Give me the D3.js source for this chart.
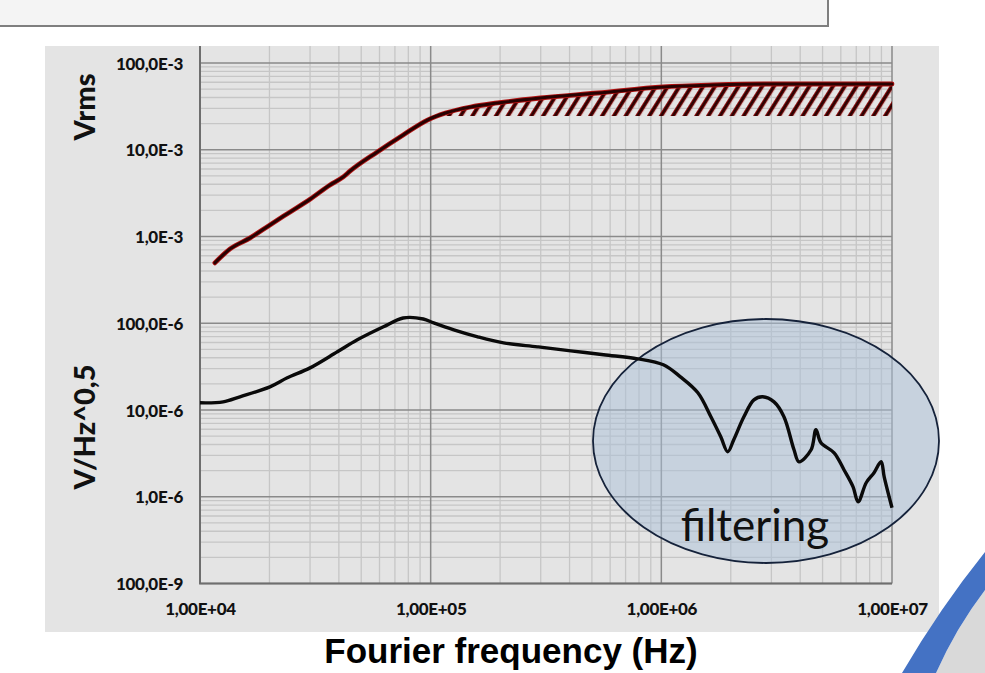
<!DOCTYPE html>
<html>
<head>
<meta charset="utf-8">
<script src="https://cdn.jsdelivr.net/npm/d3@7"></script>
<style>
  html, body { margin: 0; padding: 0; background: #ffffff; }
  svg { display: block; }
</style>
</head>
<body>
<svg id="chart" width="985" height="673"></svg>
<script>
// ---------------- data ----------------
const xTickValues = [1e4, 1e5, 1e6, 1e7];
const xTickLabels = ["1,00E+04", "1,00E+05", "1,00E+06", "1,00E+07"];
const yTickValues = [1e-1, 1e-2, 1e-3, 1e-4, 1e-5, 1e-6, 1e-7];
const yTickLabels = ["100,0E-3", "10,0E-3", "1,0E-3", "100,0E-6", "10,0E-6", "1,0E-6", "100,0E-9"];

// Integrated noise (Vrms)
const vrmsFreq = [1.16e4, 1.35e4, 1.65e4, 2.01e4, 2.46e4, 3.01e4, 3.66e4, 4.18e4, 4.48e4, 5.87e4, 7.60e4, 9.68e4,
                  1.16e5, 1.49e5, 1.95e5, 2.99e5, 5.30e5, 1.02e6, 1.69e6, 2.90e6, 1.0e7];
const vrmsValue = [4.97e-4, 7.19e-4, 9.64e-4, 1.36e-3, 1.92e-3, 2.71e-3, 3.93e-3, 4.86e-3, 5.70e-3, 9.44e-3, 1.48e-2, 2.20e-2,
                   2.65e-2, 3.11e-2, 3.46e-2, 3.95e-2, 4.51e-2, 5.30e-2, 5.58e-2, 5.73e-2, 5.73e-2];
// hatched band (between a floor and the Vrms curve)
const bandFloor = 2.45e-2;
const bandStartFreq = 1.1e5;

// Noise spectral density (V/Hz^0.5)
const psdFreq = [1.00e4, 1.26e4, 1.49e4, 2.01e4, 2.39e4, 3.00e4, 3.94e4, 4.81e4, 6.24e4, 7.60e4, 9.29e4, 1.03e5,
                 1.26e5, 1.60e5, 2.07e5, 2.90e5, 4.05e5, 5.62e5, 7.91e5, 1.02e6, 1.21e6, 1.44e6, 1.64e6, 1.81e6,
                 1.94e6, 2.06e6, 2.28e6, 2.52e6, 2.75e6, 3.08e6, 3.40e6, 3.76e6, 3.95e6, 4.46e6, 4.68e6, 4.92e6,
                 5.61e6, 6.19e6, 6.78e6, 7.13e6, 7.73e6, 8.36e6, 8.97e6, 9.25e6, 1.0e7];
const psdValue = [1.21e-5, 1.24e-5, 1.42e-5, 1.85e-5, 2.35e-5, 3.06e-5, 4.69e-5, 6.44e-5, 9.10e-5, 1.15e-4, 1.12e-4, 1.01e-4,
                  8.40e-5, 6.97e-5, 5.94e-5, 5.35e-5, 4.81e-5, 4.33e-5, 3.89e-5, 3.32e-5, 2.41e-5, 1.58e-5, 8.36e-6, 4.91e-6,
                  3.30e-6, 4.54e-6, 8.36e-6, 1.31e-5, 1.42e-5, 1.24e-5, 8.36e-6, 3.48e-6, 2.53e-6, 3.48e-6, 5.91e-6, 4.19e-6,
                  3.21e-6, 2.05e-6, 1.30e-6, 8.75e-7, 1.45e-6, 1.89e-6, 2.53e-6, 1.70e-6, 7.46e-7];

const yTitles = ["Vrms", "V/Hz^0,5"];
const xTitle = "Fourier frequency (Hz)";
const noteText = "filtering";

// ---------------- drawing ----------------
const svg = d3.select("#chart");
const tickFont = "Lato, 'Open Sans', sans-serif";

// top box
svg.append("rect").attr("x", -5).attr("y", -5).attr("width", 833).attr("height", 31)
  .attr("fill", "#f4f4f4").attr("stroke", "#7f7f7f").attr("stroke-width", 2);

// chart panel
svg.append("rect").attr("x", 45).attr("y", 46).attr("width", 894).attr("height", 586).attr("fill", "#e4e4e4");

const x = d3.scaleLog().domain([1e4, 1e7]).range([200, 892]);
const y = d3.scaleLog().domain([1e-7, 1e-1]).range([583.5, 63]);
const plotTop = 46;

// gridlines
const gx = svg.append("g");
const minorX = [];
for (let d = 4; d < 7; d++) for (let m = 2; m <= 9; m++) minorX.push(m * Math.pow(10, d));
const minorY = [];
for (let d = -7; d < -1; d++) for (let m = 2; m <= 9; m++) minorY.push(m * Math.pow(10, d));
gx.selectAll("line.mx").data(minorX).join("line")
  .attr("x1", d => x(d)).attr("x2", d => x(d)).attr("y1", plotTop).attr("y2", y(1e-7))
  .attr("stroke", "#c6c6c6").attr("stroke-width", 1.3);
gx.selectAll("line.my").data(minorY).join("line")
  .attr("x1", x(1e4)).attr("x2", x(1e7)).attr("y1", d => y(d)).attr("y2", d => y(d))
  .attr("stroke", "#c6c6c6").attr("stroke-width", 1.3);
gx.selectAll("line.My").data(yTickValues).join("line")
  .attr("x1", x(1e4)).attr("x2", x(1e7)).attr("y1", d => y(d)).attr("y2", d => y(d))
  .attr("stroke", "#8a8a8a").attr("stroke-width", 1.5);
gx.selectAll("line.Mx").data(xTickValues).join("line")
  .attr("x1", d => x(d)).attr("x2", d => x(d)).attr("y1", plotTop).attr("y2", y(1e-7))
  .attr("stroke", "#8a8a8a").attr("stroke-width", 1.5);

// axes lines
svg.append("line").attr("x1", x(1e4)).attr("x2", x(1e4)).attr("y1", plotTop).attr("y2", y(1e-7))
  .attr("stroke", "#6e6e6e").attr("stroke-width", 2);
svg.append("line").attr("x1", x(1e4) - 1).attr("x2", x(1e7)).attr("y1", y(1e-7)).attr("y2", y(1e-7))
  .attr("stroke", "#6e6e6e").attr("stroke-width", 2);

// axes labels via d3 axes
const yAxis = d3.axisLeft(y).tickValues(yTickValues).tickFormat((d, i) => yTickLabels[i]).tickSize(0).tickPadding(17);
const ya = svg.append("g").attr("transform", `translate(${x(1e4)},0)`).call(yAxis);
ya.select(".domain").remove();
ya.selectAll("text").attr("font-family", tickFont).attr("font-weight", 900).attr("font-size", 17)
  .attr("fill", "#111").attr("dy", "0.36em").attr("letter-spacing", "-0.3px");

const xAxis = d3.axisBottom(x).tickValues(xTickValues).tickFormat((d, i) => xTickLabels[i]).tickSize(0).tickPadding(19);
const xa = svg.append("g").attr("transform", `translate(0,${y(1e-7)})`).call(xAxis);
xa.select(".domain").remove();
xa.selectAll("text").attr("font-family", tickFont).attr("font-weight", 900).attr("font-size", 17)
  .attr("fill", "#111").attr("letter-spacing", "-0.3px");

// hatch pattern
const defs = svg.append("defs");
const pat = defs.append("pattern").attr("id", "hatch").attr("patternUnits", "userSpaceOnUse")
  .attr("width", 10).attr("height", 10).attr("patternTransform", "rotate(32)");
pat.append("rect").attr("x", 0).attr("y", 0).attr("width", 4.2).attr("height", 10).attr("fill", "#b01010");
pat.append("rect").attr("x", 0.7).attr("y", 0).attr("width", 2.8).attr("height", 10).attr("fill", "#2a0303");

// band data built from the Vrms series
const band = vrmsFreq.map((f, i) => ({f, v: vrmsValue[i]})).filter(d => d.f >= bandStartFreq);
band.unshift({f: bandStartFreq, v: bandFloor * 1.02});
const area = d3.area().x(d => x(d.f)).y0(y(bandFloor)).y1(d => y(d.v)).curve(d3.curveMonotoneX);
svg.append("path").datum(band).attr("d", area).attr("fill", "url(#hatch)");

// Vrms line
const vrmsData = vrmsFreq.map((f, i) => ({f, v: vrmsValue[i]}));
const line = d3.line().x(d => x(d.f)).y(d => y(d.v)).curve(d3.curveMonotoneX);
svg.append("path").datum(vrmsData).attr("d", line).attr("fill", "none")
  .attr("stroke", "#b31212").attr("stroke-width", 4.8).attr("stroke-linecap", "round");
svg.append("path").datum(vrmsData).attr("d", line).attr("fill", "none")
  .attr("stroke", "#280202").attr("stroke-width", 3).attr("stroke-linecap", "round");

// ellipse (filtering)
svg.append("ellipse").attr("cx", 766).attr("cy", 441).attr("rx", 173).attr("ry", 122)
  .attr("fill", "#a9c0d8").attr("fill-opacity", 0.5).attr("stroke", "#15223a").attr("stroke-width", 1.8);

// PSD line
const psdData = psdFreq.map((f, i) => ({f, v: psdValue[i]}));
const line2 = d3.line().x(d => x(d.f)).y(d => y(d.v)).curve(d3.curveCatmullRom.alpha(0.5));
svg.append("path").datum(psdData).attr("d", line2).attr("fill", "none")
  .attr("stroke", "#0a0a0a").attr("stroke-width", 3.4).attr("stroke-linejoin", "round");

svg.append("text").attr("x", 755).attr("y", 541).attr("text-anchor", "middle")
  .attr("font-family", "Lato, 'Open Sans', sans-serif").attr("font-size", 44).attr("fill", "#111")
  .text(noteText);

// axis titles
svg.append("text").attr("transform", "translate(95,107) rotate(-90)").attr("text-anchor", "middle")
  .attr("font-family", tickFont).attr("font-weight", 900).attr("font-size", 29).attr("fill", "#111").text(yTitles[0]);
svg.append("text").attr("transform", "translate(95,427) rotate(-90)").attr("text-anchor", "middle")
  .attr("font-family", tickFont).attr("font-weight", 900).attr("font-size", 29).attr("fill", "#111").text(yTitles[1]);
svg.append("text").attr("x", 511).attr("y", 663).attr("text-anchor", "middle")
  .attr("font-family", "'Liberation Sans', Arial, sans-serif").attr("font-weight", "bold").attr("font-size", 35)
  .attr("fill", "#000").text(xTitle);

// decorative blue swoosh bottom-right
svg.append("path").attr("d", "M985,590 Q956,628 936,673 L985,673 Z").attr("fill", "#d9d9d9");
svg.append("path").attr("d", "M985,552 Q940,608 902,673 L936,673 Q956,628 985,590 Z").attr("fill", "#4472c4");
</script>
</body>
</html>
